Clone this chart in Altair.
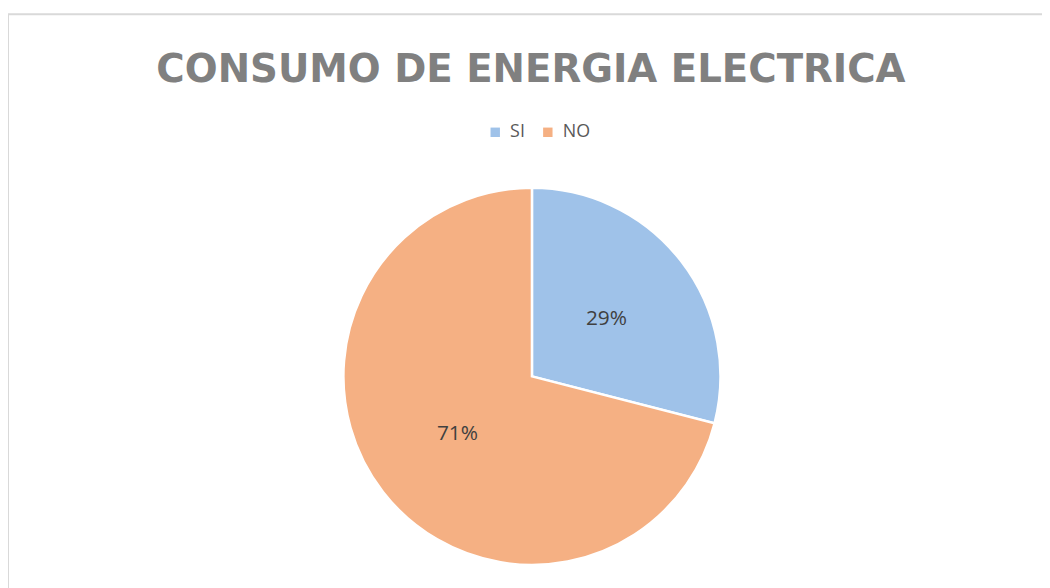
import altair as alt
import pandas as pd

categories = ["SI", "NO"]
values = [29, 71]
labels = ["29%", "71%"]
order = [0, 1]

df = pd.DataFrame({"cat": categories, "val": values, "lab": labels, "ord": order})

FONT = "Open Sans"
CX, CY, R = 528, 369, 190

color = alt.Color(
    "cat:N",
    scale=alt.Scale(domain=categories, range=["#9fc2e9", "#f5b083"]),
    sort=categories,
    legend=alt.Legend(
        title=None, orient="none", legendX=482, legendY=114, direction="horizontal",
        symbolType="square", symbolSize=90, symbolStrokeWidth=0,
        labelFontSize=18, labelColor="#595959", labelFont=FONT,
        columnPadding=14, padding=0, labelOffset=6,
    ),
)

border = alt.Chart(pd.DataFrame({"a": [0]})).mark_rect(
    fill=None, stroke="#d9d9d9", strokeWidth=2
).encode(x=alt.value(0), x2=alt.value(1100), y=alt.value(4), y2=alt.value(700))

title = alt.Chart(pd.DataFrame({"t": ["CONSUMO DE ENERGIA ELECTRICA"]})).mark_text(
    font="DejaVu Sans", fontSize=39, fontWeight="bold", color="#808080", align="center", baseline="alphabetic"
).encode(text="t:N", x=alt.value(527), y=alt.value(72))

base = alt.Chart(df).encode(
    theta=alt.Theta("val:Q", stack=True),
    order=alt.Order("ord:Q"),
)

pie = base.mark_arc(radius=R, stroke="white", strokeWidth=2.5).encode(
    color=color, x=alt.value(CX), y=alt.value(CY)
)

text = base.mark_text(radius=95, font=FONT, fontSize=21, color="#404040").encode(
    text="lab:N", x=alt.value(CX), y=alt.value(CY)
)

chart = alt.layer(border, title, pie, text).properties(
    width=1042, height=580, autosize=alt.AutoSizeParams(type="none"), padding=0
).configure_view(stroke=None)

chart.save("out.html", embed_options={"renderer": "svg", "actions": False})
